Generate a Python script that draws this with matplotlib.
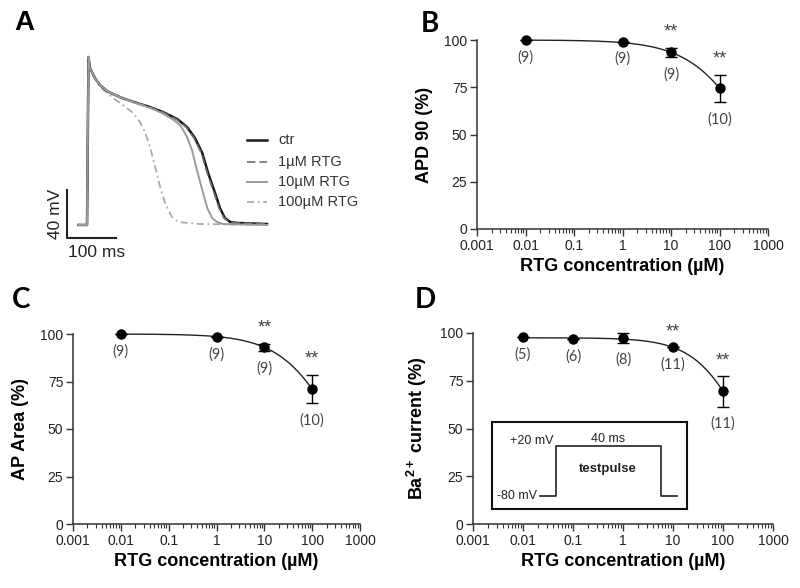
import numpy as np
import matplotlib
matplotlib.use("Agg")
import matplotlib.pyplot as plt
from matplotlib.ticker import LogLocator, NullFormatter, FixedLocator

plt.rcParams['font.family'] = ['Liberation Sans', 'DejaVu Sans']
plt.rcParams['mathtext.fontset'] = 'custom'
plt.rcParams['mathtext.rm'] = 'Liberation Sans'
plt.rcParams['mathtext.bf'] = 'Liberation Sans:bold'

# ---------------- Data ----------------
# Panel A: action potential traces (time in ms, membrane potential in mV)
ctr_t = [-20, -2, 1, 4, 14, 24.5, 39, 51, 71, 100, 126.5, 153, 182, 202, 218, 233, 245, 259, 269, 279, 290, 304, 365]
ctr_v = [-80, -80, 60, 50.8, 42.5, 36.6, 31.6, 29.1, 25.6, 21.6, 18.3, 14.1, 8.3, 1.6, -7.5, -20, -36.7, -53.3, -65.8, -74.2, -77.5, -78.3, -79.2]
rtg1_t = [-20, -2, 1, 4, 14, 24.5, 39, 51, 71, 100, 126.5, 152, 180, 200, 216, 231, 243, 257, 267, 277, 288, 302, 365]
rtg1_v = [-80, -80, 60, 50.8, 42.5, 36.6, 31.6, 29.1, 25.6, 21.6, 18.3, 14.1, 8.3, 1.6, -7.5, -20, -36.7, -53.3, -65.8, -74.2, -77.5, -78.3, -79.2]
rtg10_t = [-20, -2, 1, 4, 14, 24.5, 39, 51, 71, 100, 126.5, 150, 173, 188, 202, 212, 222, 233, 243, 253, 263, 275, 365]
rtg10_v = [-80, -80, 60, 50.8, 42.5, 36.6, 31.6, 29.1, 25.6, 21.3, 17.5, 13.5, 8.0, 3.3, -6.7, -17.5, -34.2, -50.8, -65.8, -74.2, -77.5, -79.2, -80]
rtg100_t = [-20, -2, 1, 4, 14, 24.5, 39, 51, 71, 92, 106, 116, 126.5, 137, 147, 157, 171, 184, 202, 228, 365]
rtg100_v = [-80, -80, 60, 50.8, 42.5, 35, 30, 25.8, 20, 13.3, 5.8, -2.5, -15, -31.7, -48.3, -61.7, -73.3, -77.5, -78.3, -79.2, -80]
trace_labels = ['ctr', '1µM RTG', '10µM RTG', '100µM RTG']

# Panel B: APD90
b_conc = [0.01, 1, 10, 100]
b_mean = [100, 99.2, 93.5, 74.5]
b_err = [0, 0, 2.5, 7.2]
b_n = ['(9)', '(9)', '(9)', '(10)']
b_sig = ['', '', '**', '**']
b_fit = dict(top=100, ic50=474, hill=0.69)

# Panel C: AP Area
c_conc = [0.01, 1, 10, 100]
c_mean = [100, 98.5, 93, 71]
c_err = [0, 0, 2, 7.5]
c_n = ['(9)', '(9)', '(9)', '(10)']
c_sig = ['', '', '**', '**']
c_fit = dict(top=100, ic50=339, hill=0.734)

# Panel D: Ba2+ current
d_conc = [0.01, 0.1, 1, 10, 100]
d_mean = [98, 97, 97.5, 92.5, 69.5]
d_err = [0, 0, 2.5, 0, 8]
d_n = ['(5)', '(6)', '(8)', '(11)', '(11)']
d_sig = ['', '', '', '**', '**']
d_fit = dict(top=97.5, ic50=284, hill=0.87)

# Inset pulse protocol (ms, mV)
pulse_t = [0, 6, 6, 46, 46, 52]
pulse_v = [-80, -80, 20, 20, -80, -80]

W, H = 800, 588
fig = plt.figure(figsize=(8, 5.88), dpi=100)


def ax_px(left, top, right, bottom):
    return fig.add_axes([left / W, 1 - bottom / H, (right - left) / W, (bottom - top) / H])


def letter(x, y, s, fam):
    fig.text(x / W, 1 - y / H, s, fontsize=20, fontweight='bold', family=[fam, 'DejaVu Sans'],
             ha='center', va='center')


# ---------------- Panel A ----------------
axA = ax_px(50, 45, 370, 260)
axA.set_xlim(-77.5, 575)
axA.set_ylim(-109.2, 70)
axA.axis('off')
styles = [dict(color='#1a1a1a', lw=1.8, ls='-'),
          dict(color='#707070', lw=1.2, ls=(0, (5, 2.5))),
          dict(color='#9a9a9a', lw=1.4, ls='-'),
          dict(color='#ababab', lw=1.3, ls=(0, (4, 2, 1, 2)))]
traces = [(ctr_t, ctr_v), (rtg1_t, rtg1_v), (rtg10_t, rtg10_v), (rtg100_t, rtg100_v)]
order = [3, 0, 1, 2]
for i in order:
    t, v = traces[i]
    axA.plot(t, v, **styles[i], solid_joinstyle='round', dash_joinstyle='round')
leg_y = [-9.2, -27.5, -44.2, -60.8]
for i, lab in enumerate(trace_labels):
    axA.plot([324, 365], [leg_y[i], leg_y[i]], **styles[i], clip_on=False)
    axA.text(388, leg_y[i], lab, fontsize=10.5, color='#333333', va='center', ha='left')
# scale bar
axA.plot([-42.8, -42.8, 57.2], [-50.8, -90.8, -90.8], color='#222222', lw=1.5, clip_on=False)
axA.text(-67, -71, '40 mV', rotation=90, fontsize=12.5, ha='center', va='center', color='#222222')
axA.text(18, -103, '100 ms', fontsize=12.5, ha='center', va='center', color='#222222')


# ---------------- Dose-response panels ----------------
def hill(x, top, ic50, hill):
    return top / (1 + (x / ic50) ** hill)


def dose_panel(ax, conc, mean, err, nlab, sig, fit, ylabel, ylabelpad):
    ax.set_xscale('log')
    ax.set_xlim(0.001, 1000)
    ax.set_ylim(0, 100)
    for s in ['top', 'right']:
        ax.spines[s].set_visible(False)
    for s in ['left', 'bottom']:
        ax.spines[s].set_color('#333333')
        ax.spines[s].set_linewidth(1.1)
    xs = np.logspace(np.log10(conc[0]), np.log10(conc[-1]), 200)
    ax.plot(xs, hill(xs, **fit), color='#222222', lw=1.0, clip_on=False)
    ax.errorbar(conc, mean, yerr=err, fmt='o', color='black', ms=6.5, capsize=4,
                elinewidth=1.0, capthick=1.0, clip_on=False, zorder=5)
    for x, m, e, n, s in zip(conc, mean, err, nlab, sig):
        ax.annotate(n, (x, m - e), xytext=(0, -12.5), textcoords='offset points',
                    ha='center', va='center', fontsize=10.5, color='#444444',
                    family=['Lato', 'DejaVu Sans'], annotation_clip=False)
        if s:
            ax.annotate(s, (x, m + e), xytext=(0, 5), textcoords='offset points',
                        ha='center', va='bottom', fontsize=13, color='#444444',
                        annotation_clip=False)
    ax.xaxis.set_major_locator(FixedLocator([0.001, 0.01, 0.1, 1, 10, 100, 1000]))
    ax.set_xticklabels(['0.001', '0.01', '0.1', '1', '10', '100', '1000'])
    ax.xaxis.set_minor_locator(LogLocator(base=10, subs=np.arange(2, 10)))
    ax.xaxis.set_minor_formatter(NullFormatter())
    ax.set_yticks([0, 25, 50, 75, 100])
    ax.tick_params(axis='both', which='major', length=5, width=1.0, color='#333333',
                   labelsize=10, labelcolor='#222222', pad=2)
    ax.tick_params(axis='x', which='minor', length=3, width=0.8, color='#333333')
    ax.set_xlabel('RTG concentration (µM)', fontsize=13, fontweight='bold', labelpad=4)
    ax.set_ylabel(ylabel, fontsize=13, fontweight='bold', labelpad=ylabelpad)


axB = ax_px(477, 40, 768, 229)
dose_panel(axB, b_conc, b_mean, b_err, b_n, b_sig, b_fit, 'APD 90 (%)', 8)

axC = ax_px(73, 334, 360, 524)
dose_panel(axC, c_conc, c_mean, c_err, c_n, c_sig, c_fit, 'AP Area (%)', 8)

axD = ax_px(473, 333, 773, 524)
dose_panel(axD, d_conc, d_mean, d_err, d_n, d_sig, d_fit, r'Ba$^{\mathbf{2+}}$ current (%)', 8)

# inset protocol box
axI = ax_px(492, 422, 687, 509)
axI.set_xlim(-18.3, 56)
axI.set_ylim(-106, 68)
axI.set_xticks([])
axI.set_yticks([])
for s in axI.spines.values():
    s.set_linewidth(1.5)
    s.set_color('#111111')
axI.plot(pulse_t, pulse_v, color='#222222', lw=1.2)
axI.text(pulse_t[0] - 1, pulse_v[0], '-80 mV', ha='right', va='center', fontsize=9, color='#222222')
axI.text(pulse_t[1] - 1, 20 + 10, '+20 mV', ha='right', va='center', fontsize=9, color='#222222')
axI.text((pulse_t[2] + pulse_t[3]) / 2, 20 + 14, '40 ms', ha='center', va='center', fontsize=9, color='#222222')
axI.text((pulse_t[2] + pulse_t[3]) / 2, -26, 'testpulse', ha='center', va='center', fontsize=9.5,
         fontweight='bold', color='#222222')

letter(24, 23, 'A', 'Liberation Sans')
letter(430, 24, 'B', 'Lato')
letter(21, 300, 'C', 'Lato')
letter(425, 300, 'D', 'Lato')

fig.savefig('out.png', dpi=100, facecolor='white')
